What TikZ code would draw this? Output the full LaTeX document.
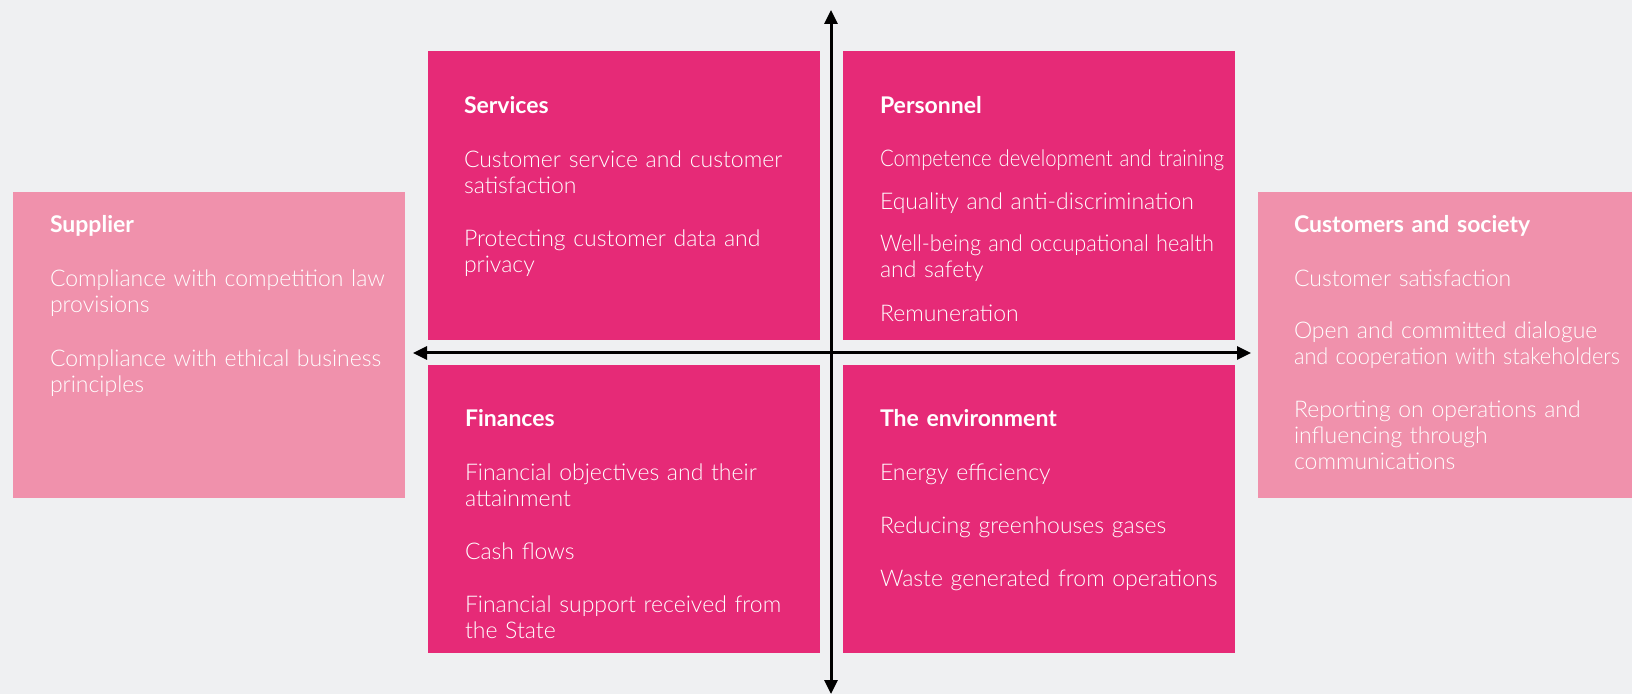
\documentclass[tikz,border=0pt]{standalone}
\usepackage{fontspec}
\usepackage{graphicx}
\setmainfont{Lato}
\newfontfamily\lightf{Lato Light}
\usetikzlibrary{arrows.meta}
\definecolor{bgc}{RGB}{239,240,242}
\definecolor{hotpink}{RGB}{230,42,119}
\definecolor{softpink}{RGB}{240,145,172}
\newcommand\boxhead[1]{{\rmfamily\bfseries #1}}
\newcommand\fitto[2]{\resizebox{#1}{\height}{#2}}
\begin{document}
\begin{tikzpicture}[x=0.5pt,y=-0.5pt,
  panel/.style={fill=#1, draw=none, inner sep=0pt, outer sep=0pt, anchor=north west},
  txt/.style={text=white, inner sep=0pt, outer sep=0pt, anchor=base west, text width=190pt, align=left,
    font=\lightf\fontsize{11.5pt}{13pt}\selectfont},
  axis/.style={line width=1.5pt, draw=black, {Triangle[length=7pt,width=6.5pt]}-{Triangle[length=7pt,width=6.5pt]}}]
\fill[bgc] (0,0) rectangle (1632,694);
\useasboundingbox (0,0) rectangle (1632,694);
% panels
\node[panel=softpink, minimum width=196pt, minimum height=153pt] (supplier) at (13,192) {};
\node[panel=hotpink, minimum width=196pt, minimum height=144.5pt] (services) at (428,51) {};
\node[panel=hotpink, minimum width=196pt, minimum height=144.5pt] (personnel) at (843,51) {};
\node[panel=hotpink, minimum width=196pt, minimum height=144pt] (finances) at (428,365) {};
\node[panel=hotpink, minimum width=196pt, minimum height=144pt] (environment) at (843,365) {};
\node[panel=softpink, minimum width=187pt, minimum height=153pt] (customers) at (1258,192) {};
% texts
\node[txt] (supplierT) at (50,233) {\boxhead{Supplier}\\[14pt]
Compliance with competition law\\ provisions\\[14pt]
Compliance with ethical business\\ principles};
\node[txt] (servicesT) at (464,114) {\boxhead{Services}\\[14pt]
Customer service and customer\\ satisfaction\\[13.5pt]
Protecting customer data and\\ privacy};
\node[txt] (personnelT) at (880,114) {\boxhead{Personnel}\\[13.5pt]
\fitto{172pt}{Competence development and training}\\[8.5pt]
Equality and anti-discrimination\\[8pt]
\fitto{167pt}{Well-being and occupational health}\\ and safety\\[9pt]
Remuneration};
\node[txt] (financesT) at (465,427) {\boxhead{Finances}\\[14pt]
Financial objectives and their\\ attainment\\[13.5pt]
Cash flows\\[13.5pt]
Financial support received from\\ the State};
\node[txt] (environmentT) at (880,427) {\boxhead{The environment}\\[14pt]
Energy efficiency\\[13.5pt]
Reducing greenhouses gases\\[13.5pt]
Waste generated from operations};
\node[txt] (customersT) at (1294,233) {\boxhead{Customers and society}\\[14pt]
Customer satisfaction\\[13pt]
Open and committed dialogue\\ \fitto{163pt}{and cooperation with stakeholders}\\[13.5pt]
Reporting on operations and\\ influencing through\\ communications};
% axes
\coordinate (top) at (831,10);
\coordinate (bottom) at (831,694);
\coordinate (left) at (413,353);
\coordinate (right) at (1251,353);
\draw[axis] (bottom) -- (top);
\draw[axis] (left) -- (right);
\end{tikzpicture}
\end{document}
